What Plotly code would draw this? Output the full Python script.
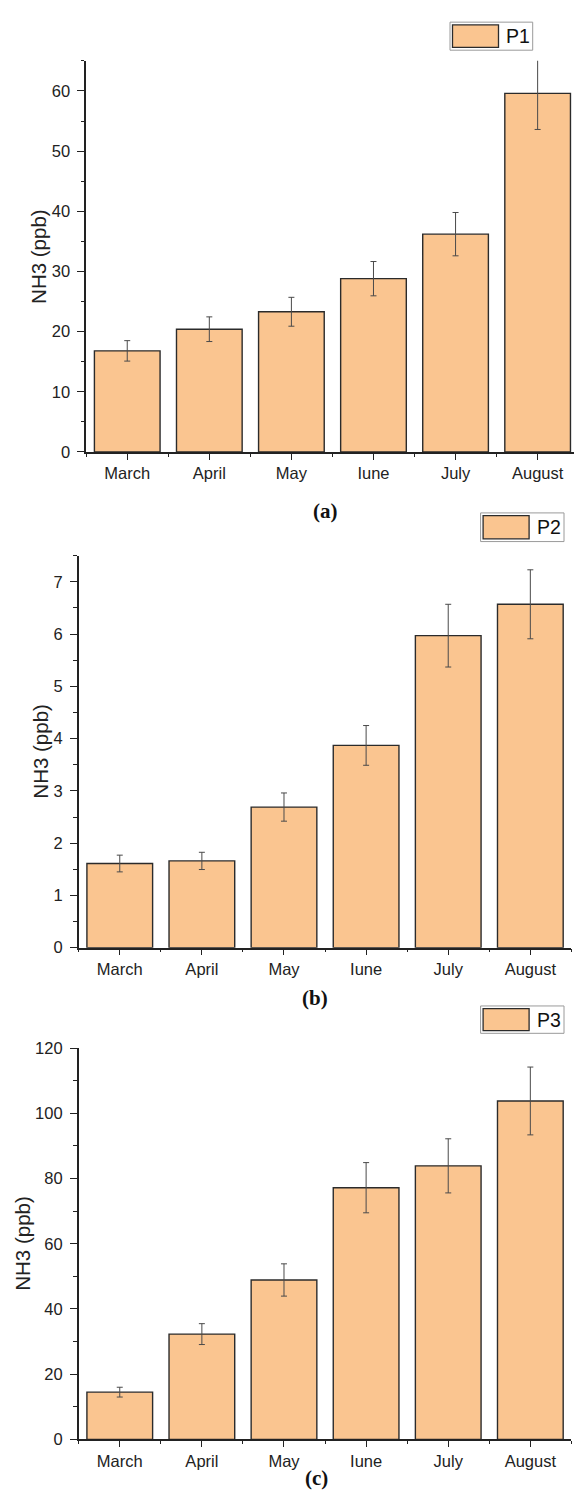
import plotly.graph_objects as go

# Monthly mean NH3 concentration (ppb) with error bars at three sites
MONTHS = ["March", "April", "May", "Iune", "July", "August"]

P1_MEAN = [16.8, 20.4, 23.3, 28.8, 36.2, 59.6]
P1_ERR = [1.7, 2.05, 2.4, 2.85, 3.6, 6.0]

P2_MEAN = [1.61, 1.66, 2.69, 3.87, 5.97, 6.57]
P2_ERR = [0.16, 0.165, 0.27, 0.38, 0.6, 0.66]

P3_MEAN = [14.5, 32.3, 48.9, 77.2, 83.9, 103.8]
P3_ERR = [1.5, 3.2, 4.95, 7.7, 8.3, 10.4]

SITES = ["P1", "P2", "P3"]
PANEL_TAGS = ["(a)", "(b)", "(c)"]

W, H = 574, 1508
FILL = "#FAC590"
EDGE = "#2b2b2b"
INK = "#222222"
SANS = "Arial, Liberation Sans, sans-serif"
SERIF = "Times New Roman, Liberation Serif, serif"


def px_x(x):
    return x / W


def px_y(y):
    return 1 - y / H


# panel geometry in pixels: plot left, plot right, plot top, plot bottom
panels = [
    dict(left=86.2, right=574.0, top=52.5, bottom=448.3, xmax=5.443, ymax=65, dtick=10,
         legend=(450, 13.3, 532.7, 41.7), title_x=38.5, tag=(325, 508)),
    dict(left=78.7, right=571.4, top=553.3, bottom=950.0, xmax=5.5, ymax=7.5, dtick=1,
         legend=(480.6, 510.0, 564.0, 539.0), title_x=41.0, tag=(315, 1001)),
    dict(left=78.7, right=571.4, top=1051.7, bottom=1447.7, xmax=5.5, ymax=120, dtick=20,
         legend=(480.6, 1009.0, 564.0, 1036.7), title_x=23.0, tag=(316, 1487)),
]

means = [P1_MEAN, P2_MEAN, P3_MEAN]
errs = [P1_ERR, P2_ERR, P3_ERR]
positions = list(range(len(MONTHS)))
boundaries = [i - 0.5 for i in range(len(MONTHS) + 1)]

fig = go.Figure()
shapes = []
annotations = []
layout_axes = {}

for k, p in enumerate(panels):
    sfx = "" if k == 0 else str(k + 1)
    fig.add_trace(go.Bar(
        x=positions, y=means[k], width=0.8,
        marker=dict(color=FILL, line=dict(color=EDGE, width=1.4)),
        error_y=dict(type="data", array=errs[k], color="#4a4a4a",
                     thickness=1, width=3),
        xaxis="x" + sfx, yaxis="y" + sfx, showlegend=False,
    ))

    layout_axes["xaxis" + sfx] = dict(
        domain=[px_x(p["left"]), px_x(p["right"])],
        anchor="y" + sfx,
        range=[-0.5, p["xmax"]],
        tickmode="array", tickvals=positions, ticktext=MONTHS,
        ticks="outside", ticklen=6, tickwidth=1.3, tickcolor=INK,
        minor=dict(tickmode="array", tickvals=boundaries, ticks="outside",
                   ticklen=3, tickwidth=1.3, tickcolor=INK),
        showline=True, linecolor=INK, linewidth=1.5,
        showgrid=False, zeroline=False,
        tickfont=dict(family=SANS, size=16.5, color=INK),
    )
    layout_axes["yaxis" + sfx] = dict(
        domain=[px_y(p["bottom"]), px_y(p["top"])],
        anchor="x" + sfx,
        range=[0, p["ymax"]],
        tickmode="linear", tick0=0, dtick=p["dtick"],
        ticks="outside", ticklen=7, tickwidth=1.3, tickcolor=INK,
        minor=dict(tick0=0, dtick=p["dtick"] / 2, ticks="outside",
                   ticklen=3.5, tickwidth=1.3, tickcolor=INK),
        showline=True, linecolor=INK, linewidth=1.5,
        showgrid=False, zeroline=False,
        ticklabelstandoff=4,
        tickfont=dict(family=SANS, size=16.5, color=INK),
    )

    # legend box drawn as shapes
    bx0, by0, bx1, by1 = p["legend"]
    shapes.append(dict(type="rect", xref="paper", yref="paper",
                       x0=px_x(bx0), x1=px_x(bx1), y0=px_y(by1), y1=px_y(by0),
                       line=dict(color="#9a9a9a", width=1), fillcolor="white"))
    shapes.append(dict(type="rect", xref="paper", yref="paper",
                       x0=px_x(bx0 + 2.5), x1=px_x(bx0 + 48.5),
                       y0=px_y(by1 - 2.8), y1=px_y(by0 + 2.8),
                       line=dict(color=EDGE, width=1.3), fillcolor=FILL))
    annotations.append(dict(text=SITES[k], xref="paper", yref="paper",
                            x=px_x(bx0 + 54), y=px_y((by0 + by1) / 2),
                            xanchor="left", yanchor="middle", showarrow=False,
                            font=dict(family=SANS, size=19.5, color="#111")))

    # axis title
    annotations.append(dict(text="NH3 (ppb)", xref="paper", yref="paper",
                            x=px_x(p["title_x"]), y=px_y((p["top"] + p["bottom"]) / 2),
                            xanchor="center", yanchor="middle", textangle=-90,
                            showarrow=False,
                            font=dict(family=SANS, size=20.5, color=INK)))

    # panel tag
    tx, ty = p["tag"]
    annotations.append(dict(text="<b>" + PANEL_TAGS[k] + "</b>", xref="paper", yref="paper",
                            x=px_x(tx), y=px_y(ty), xanchor="center", yanchor="middle",
                            showarrow=False,
                            font=dict(family=SERIF, size=21, color="#111")))

fig.update_layout(
    width=W, height=H,
    margin=dict(l=0, r=0, t=0, b=0),
    paper_bgcolor="white", plot_bgcolor="white",
    bargap=0.2,
    shapes=shapes, annotations=annotations,
    **layout_axes,
)

fig.write_html("out.html")
